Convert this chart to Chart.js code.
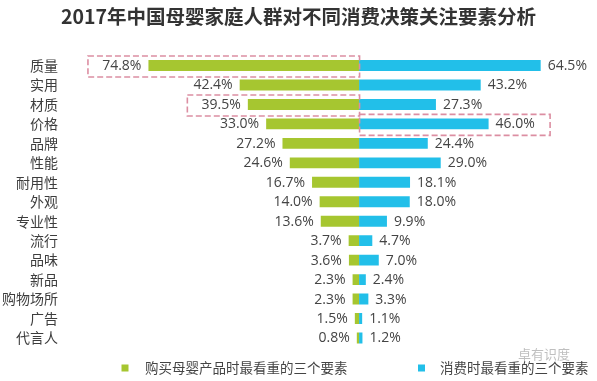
<!DOCTYPE html>
<html>
<head>
<meta charset="utf-8">
<script src="https://cdn.jsdelivr.net/npm/chart.js@4/dist/chart.umd.min.js"></script>
<style>
  html, body { margin: 0; padding: 0; background: #ffffff; }
  #wrap { width: 597px; height: 381px; }
</style>
</head>
<body>
<div id="wrap"><canvas id="c" width="597" height="381"></canvas></div>
<script>
const titleText = '2017年中国母婴家庭人群对不同消费决策关注要素分析';
const categories = ['质量','实用','材质','价格','品牌','性能','耐用性','外观','专业性','流行','品味','新品','购物场所','广告','代言人'];
const buyValues = [74.8, 42.4, 39.5, 33.0, 27.2, 24.6, 16.7, 14.0, 13.6, 3.7, 3.6, 2.3, 2.3, 1.5, 0.8];
const consumeValues = [64.5, 43.2, 27.3, 46.0, 24.4, 29.0, 18.1, 18.0, 9.9, 4.7, 7.0, 2.4, 3.3, 1.1, 1.2];
const seriesNames = ['购买母婴产品时最看重的三个要素', '消费时最看重的三个要素'];
const highlights = [ {series: 0, index: 0}, {series: 0, index: 2}, {series: 1, index: 3} ];
const watermarkText = '卓有识度';

const GREEN = '#a6c630';
const BLUE = '#22bfe9';
const LABEL_FONT = '14px "Open Sans", "Noto Sans", sans-serif';
const CJK = '"Noto Sans CJK SC", "Noto Sans", sans-serif';

const valueLabels = {
  id: 'valueLabels',
  afterDatasetsDraw(chart) {
    const ctx = chart.ctx;
    ctx.save();
    ctx.font = LABEL_FONT;
    ctx.fillStyle = '#444444';
    ctx.textBaseline = 'middle';
    chart.data.datasets.forEach((ds, di) => {
      const meta = chart.getDatasetMeta(di);
      meta.data.forEach((el, i) => {
        const v = Math.abs(ds.data[i]);
        const txt = v.toFixed(1) + '%';
        if (di === 0) {
          ctx.textAlign = 'right';
          ctx.fillText(txt, el.x - 7, el.y + 0.5);
        } else {
          ctx.textAlign = 'left';
          ctx.fillText(txt, el.x + 7, el.y + 0.5);
        }
      });
    });
    ctx.restore();
  }
};

const highlightBoxes = {
  id: 'highlightBoxes',
  afterDatasetsDraw(chart) {
    const ctx = chart.ctx;
    const xs = chart.scales.x;
    const zero = xs.getPixelForValue(0);
    ctx.save();
    ctx.strokeStyle = '#dc8ea2';
    ctx.lineWidth = 1.6;
    ctx.setLineDash([6, 3]);
    highlights.forEach(h => {
      const el = chart.getDatasetMeta(h.series).data[h.index];
      const yc = el.y;
      const top = yc - 9.5, bottom = yc + 11.5;
      let left, right;
      if (h.series === 0) { left = el.x - 60.5; right = zero + 0.5; }
      else { left = zero + 0.5; right = el.x + 61.5; }
      ctx.strokeRect(left, top, right - left, bottom - top);
    });
    ctx.restore();
  }
};

const customLegend = {
  id: 'customLegend',
  afterDraw(chart) {
    const ctx = chart.ctx;
    ctx.save();
    const y = 368;
    const items = [
      {x: 121.5, tx: 145, color: GREEN, text: seriesNames[0]},
      {x: 418, tx: 440, color: BLUE, text: seriesNames[1]}
    ];
    ctx.font = '13.5px ' + CJK;
    ctx.textBaseline = 'middle';
    ctx.textAlign = 'left';
    items.forEach(it => {
      ctx.fillStyle = it.color;
      ctx.fillRect(it.x, y - 3.5, 7, 7);
      ctx.fillStyle = '#444444';
      ctx.fillText(it.text, it.tx, y);
    });
    // faint watermark
    ctx.globalAlpha = 0.55;
    ctx.fillStyle = '#8a8a8a';
    ctx.font = '13px ' + CJK;
    ctx.fillText(watermarkText, 518, 354);
    ctx.restore();
  }
};

new Chart(document.getElementById('c'), {
  type: 'bar',
  data: {
    labels: categories,
    datasets: [
      { label: seriesNames[0], data: buyValues.map(v => -v), backgroundColor: GREEN, borderWidth: 0, barPercentage: 0.56, categoryPercentage: 1.0 },
      { label: seriesNames[1], data: consumeValues, backgroundColor: BLUE, borderWidth: 0, barPercentage: 0.56, categoryPercentage: 1.0 }
    ]
  },
  options: {
    indexAxis: 'y',
    responsive: false,
    animation: false,
    layout: { padding: { left: 0, right: 0, top: 0, bottom: 33.3 } },
    scales: {
      x: { display: false, stacked: true, min: -105.5, max: 84.5 },
      y: {
        stacked: true,
        grid: { display: false, drawTicks: false },
        border: { display: false },
        ticks: { color: '#3d3d3d', font: { size: 14, family: CJK }, padding: 4, autoSkip: false },
        afterFit(s) { s.width = 62; }
      }
    },
    plugins: {
      legend: { display: false },
      tooltip: { enabled: false },
      title: {
        display: true,
        text: titleText,
        color: '#333333',
        font: { size: 19.5, weight: 'bold', family: CJK },
        padding: { top: 5, bottom: 27.4 }
      }
    }
  },
  plugins: [valueLabels, highlightBoxes, customLegend]
});
</script>
</body>
</html>
